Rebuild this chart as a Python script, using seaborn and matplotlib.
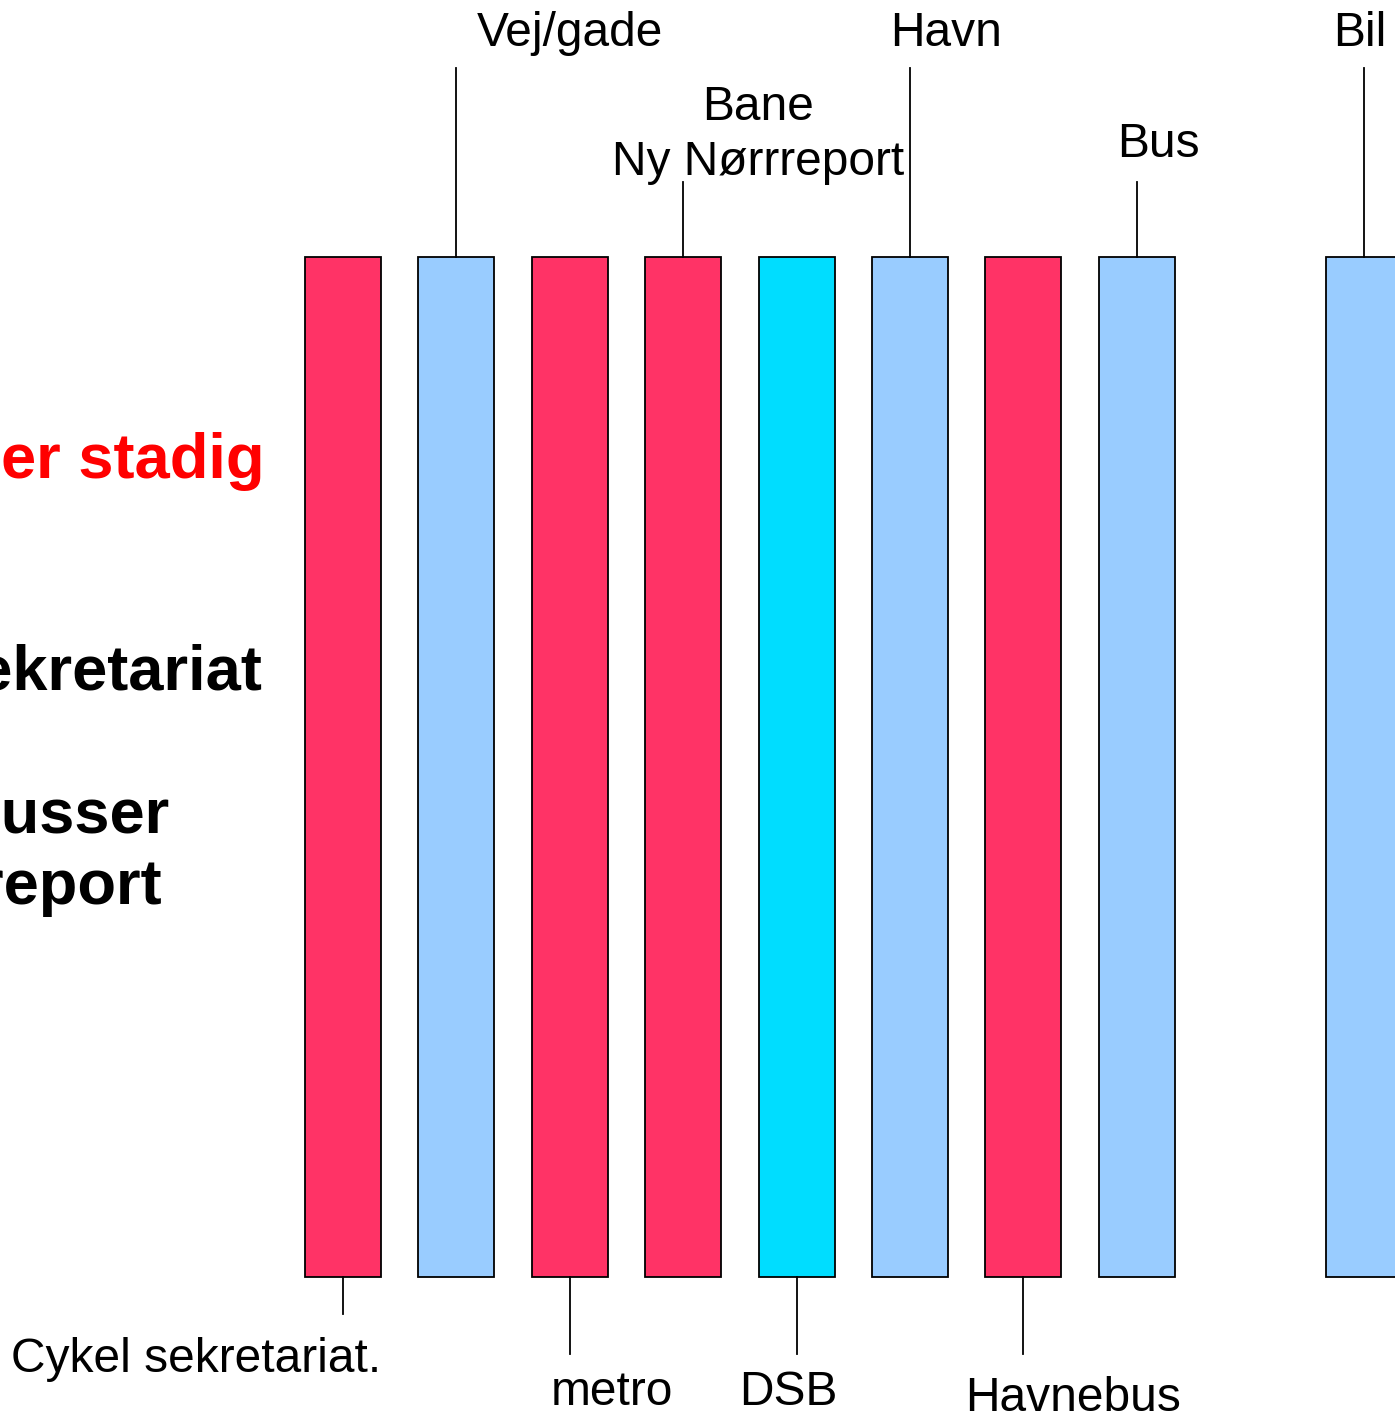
import matplotlib
matplotlib.use('Agg')
import matplotlib.pyplot as plt
import seaborn as sns

# slots along the row; the empty name keeps the gap before "Bil"
order = ["Cykel sekretariat.", "Vej/gade", "metro", "Bane\nNy Nørrreport", "DSB",
         "Havn", "Havnebus", "Bus", "", "Bil"]
categories = ["Cykel sekretariat.", "Vej/gade", "metro", "Bane\nNy Nørrreport", "DSB",
              "Havn", "Havnebus", "Bus", "Bil"]
heights = [1, 1, 1, 1, 1, 1, 1, 1, 1]
colors = ["#FF3366", "#99CCFF", "#FF3366", "#FF3366", "#00DDFF",
          "#99CCFF", "#FF3366", "#99CCFF", "#99CCFF"]

# labels above the bars
top_labels = ["Vej/gade", "Bane\nNy Nørrreport", "Havn", "Bus", "Bil"]
# labels below the bars
bottom_labels = ["Cykel sekretariat.", "metro", "DSB", "Havnebus"]

side_text = ["er stadig", "Sekretariat", "Busser", "Nørreport"]
side_color = ["#FF0000", "black", "black", "black"]

plt.rcParams['font.family'] = ['Liberation Sans', 'DejaVu Sans']

fig = plt.figure(figsize=(13.95, 14.14), dpi=100)
ax = fig.add_axes([0, 0, 1, 1])

sns.barplot(x=categories, y=heights, hue=categories, order=order,
            palette=dict(zip(categories, colors)), saturation=1, width=0.67,
            edgecolor="black", linewidth=1.3, legend=False, ax=ax)

ax.set_xlim(-3.025, 9.277)
ax.set_ylim(-0.1343, 1.252)
ax.axis("off")

pos = {c: i for i, c in enumerate(order)}

# leader lines + text above: (line end, text baseline, text x shift)
top_cfg = {
    "Vej/gade": (1.185, 1.207, 1.0),
    "Bane\nNy Nørrreport": (1.074, 1.080, 0.66),
    "Havn": (1.185, 1.207, 0.32),
    "Bus": (1.074, 1.098, 0.19),
    "Bil": (1.185, 1.207, -0.03),
}
for name in top_labels:
    x = pos[name]
    line_end, base, dx = top_cfg[name]
    ax.plot([x, x], [1, line_end], color="black", lw=1.3)
    ax.text(x + dx, base, name, ha="center", va="baseline", fontsize=34.5,
            linespacing=1.3)

bot_cfg = {
    "Cykel sekretariat.": (-0.036, -0.093, -1.3),
    "metro": (-0.075, -0.1255, 0.37),
    "DSB": (-0.075, -0.1255, -0.07),
    "Havnebus": (-0.075, -0.131, 0.44),
}
for name in bottom_labels:
    x = pos[name]
    line_end, base, dx = bot_cfg[name]
    ax.plot([x, x], [0, line_end], color="black", lw=1.3)
    ax.text(x + dx, base, name, ha="center", va="baseline", fontsize=34.5)

side_x = [-0.688, -0.714, -1.526, -1.596]
side_y = [0.783, 0.576, 0.436, 0.366]
for t, c, sx, sy in zip(side_text, side_color, side_x, side_y):
    ax.text(sx, sy, t, ha="right", va="baseline", fontsize=45.5,
            fontweight="bold", color=c)

fig.savefig("out.png", dpi=100)
plt.close(fig)
